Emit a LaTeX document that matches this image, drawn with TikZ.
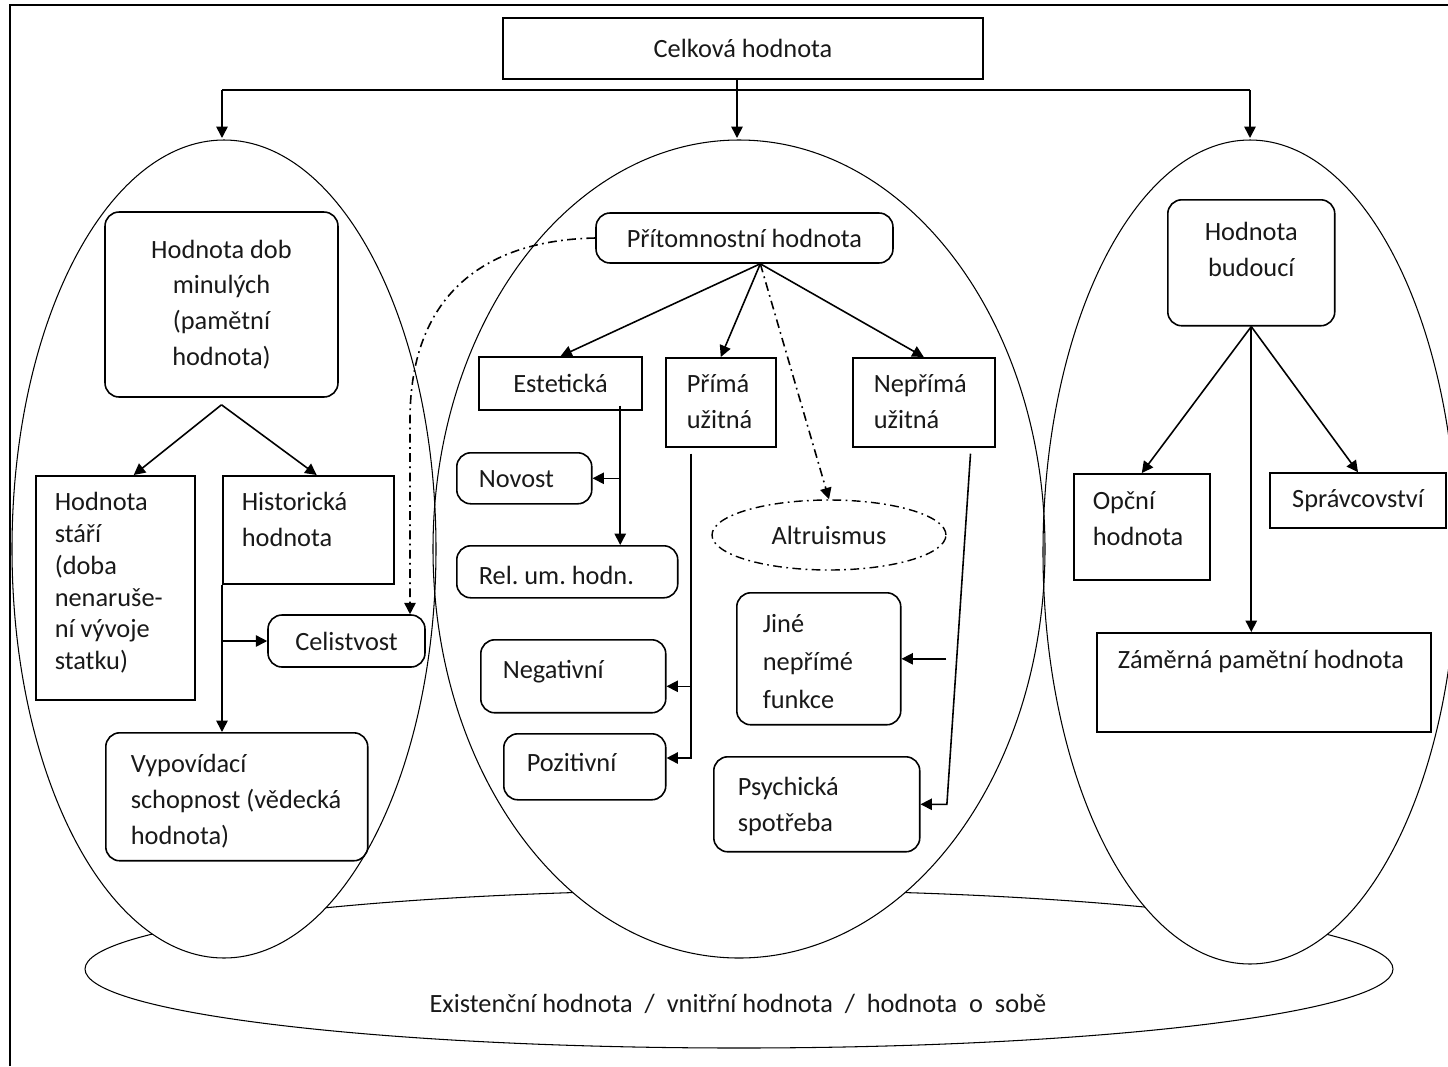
\documentclass[tikz,border=0pt]{standalone}
\usepackage{fontspec}
\setmainfont{Carlito}
\usepackage{tikz}
\usetikzlibrary{arrows.meta,shapes.geometric}
\frenchspacing

\begin{document}
\begin{tikzpicture}[x=0.02cm,y=-0.02cm]
	\tikzstyle{every node}=[font=\fontsize{15}{20.4}\selectfont, text=black!90]
	\tikzstyle{cbox}=[draw, line width=0.9pt, inner sep=0pt, align=center]
	\tikzstyle{tbox}=[draw, line width=0.9pt, anchor=north west, inner ysep=0.2cm, align=left, execute at begin node={\spaceskip=0pt\xspaceskip=0pt\relax}]
	\tikzstyle{rnd}=[rounded corners=0.28cm]
	\tikzstyle{oval}=[line width=0.6pt]
	\tikzstyle{link}=[line width=0.9pt]
	\tikzstyle{ddash}=[dash pattern=on 5pt off 2.5pt on 1pt off 2.5pt]
	\tikzset{>={Triangle[length=6.5pt,width=6.5pt]}}
	\useasboundingbox (0,0) rectangle (1448,1066);
		% frame
		\draw[line width=0.9pt] (10,1066) -- (10,5) -- (1448,5);
		% ellipses
		\draw[oval] (739,969) ellipse [x radius=654, y radius=79];
		\fill[white] (224,549) ellipse [x radius=212, y radius=409];
		\fill[white] (739,549) ellipse [x radius=306, y radius=409];
		\fill[white] (1250,552) ellipse [x radius=207, y radius=412];
		\draw[oval] (224,549) ellipse [x radius=212, y radius=409];
		\draw[oval] (739,549) ellipse [x radius=306, y radius=409];
		\draw[oval] (1250,552) ellipse [x radius=207, y radius=412];
		\node (exi) at (738,1004) {Existenční hodnota \ / \ vnitřní hodnota \ / \ hodnota \ o \ sobě};
		% top
		\node[cbox, minimum width=9.6cm, minimum height=1.22cm] (cel) at (743,48.5) {Celková hodnota};
		\coordinate (topL) at (222,138);
		\coordinate (topM) at (737,138);
		\coordinate (topR) at (1250,138);
		\coordinate (hub) at (737,90);
		\draw[link] (topL |- hub) -- (topR |- hub);
		\draw[link,->] (topL |- hub) -- (topL);
		\draw[link,->] (cel.south -| topM) -- (topM);
		\draw[link,->] (topR |- hub) -- (topR);
		% left oval
		\node[cbox, rnd, minimum width=4.66cm, minimum height=3.7cm] (dob) at (221.5,304.5) {Hodnota dob\\minulých\\(pamětní\\hodnota)};
		\node[tbox, font=\fontsize{15}{18.1}\selectfont, inner xsep=0.38cm, text width=2.42cm, text height=0.5cm, text depth=3.58cm] (sta) at (35,475) {Hodnota\\stáří\\(doba\\nenaruše-\\ní vývoje\\statku)};
		\node[tbox, inner xsep=0.38cm, text width=2.66cm, text height=0.5cm, text depth=1.26cm] (his) at (222,475) {Historická\\hodnota};
		\node[cbox, rnd, minimum width=3.14cm, minimum height=1.04cm] (celi) at (346.5,641) {Celistvost};
		\node[tbox, rnd, inner xsep=0.5cm, text width=4.24cm, text height=0.6cm, text depth=1.56cm] (vyp) at (105,732) {Vypovídací\\schopnost~(vědecká\\hodnota)};
		\coordinate (dobs) at ([yshift=-4pt]dob.south);
		\draw[link,->] (dobs) -- ([xshift=10.5pt]sta.north);
		\draw[link,->] (dobs) -- ([xshift=4.8pt]his.north);
		\draw[link,->] (his.south west) -- (his.south west |- vyp.north);
		\draw[link,->] (his.south west |- celi.west) -- (celi.west);
		% middle oval
		\node[cbox, rnd, minimum width=5.94cm, minimum height=1cm] (pri) at (744.5,238) {Přítomnostní hodnota};
		\node[cbox, minimum width=3.26cm, minimum height=1.06cm] (est) at (560.5,383.5) {Estetická};
		\node[tbox, inner xsep=0.42cm, text width=1.36cm, text height=0.5cm, text depth=0.88cm] (pra) at (665,357) {Přímá\\užitná};
		\node[tbox, inner xsep=0.42cm, text width=2cm, text height=0.5cm, text depth=0.88cm] (nep) at (852,357) {Nepřímá\\užitná};
		\node[tbox, rnd, inner xsep=0.44cm, text width=1.82cm, text height=0.5cm, text depth=0.12cm] (nov) at (456,452) {Novost};
		\node[tbox, rnd, inner xsep=0.44cm, text width=3.54cm, text height=0.58cm, text depth=0.06cm] (rel) at (456,545) {Rel. um. hodn.};
		\node[tbox, rnd, inner xsep=0.44cm, text width=2.82cm, text height=0.58cm, text depth=0.48cm] (neg) at (480,639) {Negativní};
		\node[tbox, rnd, inner xsep=0.46cm, text width=2.32cm, text height=0.56cm, text depth=0.36cm] (poz) at (503,733) {Pozitivní};
		\node[draw, ellipse, ddash, line width=0.8pt, minimum width=4.68cm, minimum height=1.4cm, inner sep=0pt] (alt) at (829,535) {Altruismus};
		\node[tbox, rnd, font=\fontsize{15}{21.5}\selectfont, inner xsep=0.52cm, text width=2.24cm, text height=0.6cm, text depth=1.64cm] (jin) at (736,592) {Jiné\\nepřímé\\funkce};
		\node[tbox, rnd, inner xsep=0.48cm, text width=3.16cm, text height=0.58cm, text depth=0.92cm] (psy) at (713,756) {Psychická\\spotřeba};
		\coordinate (ps) at ([xshift=9pt]pri.south);
		\draw[link,->] (ps) -- (est.north);
		\draw[link,->] (ps) -- (pra.north);
		\draw[link,->] (ps) -- (nep.north);
		\draw[link,ddash,->] (ps) -- (alt.north);
		\coordinate (bend) at (410,420);
		\draw[link,ddash,->] (pri.west) .. controls (490,240) and (410,290) .. (bend) -- (bend |- celi.north);
		\coordinate (ev) at ([xshift=34pt,yshift=3pt]est.south);
		\draw[link,->] (ev) -- (ev |- rel.north);
		\draw[link,->] (ev |- nov.east) -- (nov.east);
		\coordinate (pv) at ([xshift=-17pt,yshift=-3.5pt]pra.south);
		\coordinate (pn) at ([yshift=-5.7pt]neg.east);
		\coordinate (pp) at ([yshift=5pt]poz.east);
		\draw[link,->] (pv) -- (pv |- pp) -- (pp);
		\draw[link,->] (pv |- pn) -- (pn);
		\draw[link,->] ([xshift=25.5pt]jin.east) -- (jin.east);
		\coordinate (nv) at ([xshift=26.6pt,yshift=-3.5pt]nep.south);
		\draw[link,->] (nv) -- ([xshift=15pt]psy.east) -- (psy.east);
		% right oval
		\node[tbox, rnd, align=center, inner xsep=0.2cm, text width=2.94cm, text height=0.62cm, text depth=1.5cm] (bud) at (1167,199) {Hodnota\\budoucí};
		\node[tbox, inner xsep=0.38cm, text width=1.96cm, text height=0.52cm, text depth=1.2cm] (opc) at (1073,473) {Opční\\hodnota};
		\node[cbox, minimum width=3.52cm, minimum height=1.1cm] (spr) at (1358,500.5) {Správcovství};
		\node[tbox, inner xsep=0.42cm, text width=5.84cm, text height=0.52cm, text depth=1.06cm] (zam) at (1096,632) {Záměrná~pamětní~hodnota};
		\draw[link,->] (bud.south) -- (opc.north);
		\draw[link,->] (bud.south) -- (spr.north);
		\draw[link,->] (bud.south) -- (bud.south |- zam.north);
	\end{tikzpicture}
\end{document}
